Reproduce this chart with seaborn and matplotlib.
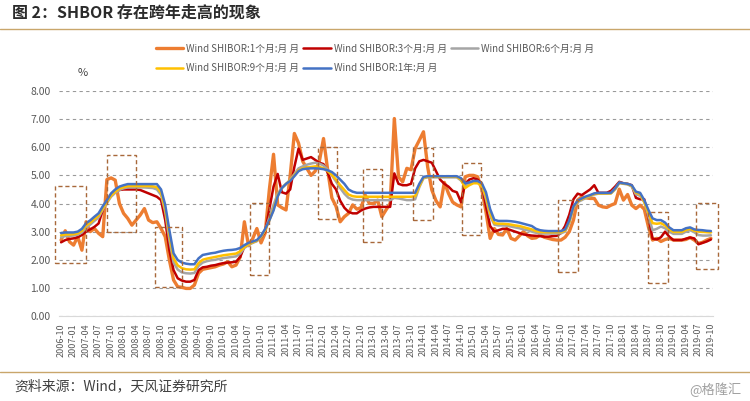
import numpy as np
import pandas as pd
import seaborn as sns
import matplotlib.pyplot as plt
from matplotlib.patches import Rectangle
from matplotlib.lines import Line2D

# monthly data, 2006-10 .. 2019-10
months = pd.date_range('2006-10-01', '2019-10-01', freq='MS')

shibor_1m = [2.70, 3.03, 2.64,
             2.52, 2.82, 2.34, 3.35, 3.00, 3.11, 2.94, 2.82, 4.85, 4.91, 4.83, 4.00,
             3.65, 3.47, 3.23, 3.41, 3.59, 3.82, 3.41, 3.32, 3.35, 3.11, 2.82, 1.99,
             1.28, 1.04, 1.02, 0.98, 0.98, 1.10, 1.52, 1.66, 1.69, 1.72, 1.75, 1.81,
             1.85, 1.93, 1.75, 1.81, 2.10, 3.35, 2.50, 2.75, 3.11, 2.60, 2.95, 4.50,
             5.75, 3.95, 3.85, 3.77, 5.00, 6.49, 6.15, 5.50, 5.25, 5.00, 5.15, 5.50,
             6.31, 5.19, 4.20, 3.90, 3.35, 3.53, 3.65, 3.95, 3.80, 3.85, 4.30, 4.00,
             4.00, 4.12, 3.53, 3.77, 4.00, 7.02, 4.95, 4.77, 5.25, 5.20, 5.96, 6.25,
             6.55, 5.30, 4.48, 4.10, 3.88, 4.75, 4.36, 4.05, 3.95, 3.88, 4.95, 5.00,
             5.00, 4.95, 4.50, 3.70, 2.76, 3.11, 2.90, 2.88, 3.11, 2.76, 2.70, 2.85,
             3.00, 2.85, 2.76, 2.78, 2.88, 2.80, 2.76, 2.72, 2.70, 2.70, 2.80, 3.00,
             3.41, 4.12, 4.24, 4.20, 4.18, 4.18, 3.94, 3.88, 3.86, 3.94, 4.00, 4.51,
             4.12, 4.32, 3.94, 3.82, 3.94, 3.80, 3.17, 2.70, 2.76, 2.65, 2.72, 2.76,
             2.70, 2.70, 2.70, 2.72, 2.79, 2.70, 2.58, 2.62, 2.70, 2.76]

shibor_3m = [2.62, 2.70, 2.74,
             2.76, 2.80, 2.88, 3.00, 3.08, 3.17, 3.29, 3.77, 4.10, 4.30, 4.42, 4.48,
             4.50, 4.50, 4.50, 4.50, 4.48, 4.42, 4.36, 4.30, 4.24, 4.12, 3.41, 2.34,
             1.63, 1.34, 1.26, 1.22, 1.22, 1.28, 1.63, 1.73, 1.75, 1.79, 1.81, 1.85,
             1.88, 1.90, 1.91, 1.93, 2.10, 2.46, 2.58, 2.62, 2.68, 2.80, 3.00, 3.80,
             4.60, 5.05, 4.40, 4.35, 4.50, 5.30, 5.95, 5.55, 5.60, 5.65, 5.55, 5.45,
             5.40, 5.10, 4.70, 4.50, 4.10, 3.85, 3.70, 3.65, 3.65, 3.75, 3.82, 3.86,
             3.88, 3.88, 3.88, 3.88, 3.88, 5.07, 4.70, 4.65, 4.65, 4.70, 5.25, 5.50,
             5.55, 5.50, 5.45, 5.15, 4.85, 4.70, 4.60, 4.45, 4.40, 4.05, 4.70, 4.85,
             4.90, 4.85, 4.70, 3.90, 3.20, 3.00, 3.05, 3.10, 3.10, 3.05, 3.00, 2.95,
             2.90, 2.88, 2.86, 2.85, 2.84, 2.82, 2.82, 2.84, 2.85, 2.95, 3.20, 3.60,
             4.15, 4.35, 4.30, 4.40, 4.50, 4.65, 4.38, 4.38, 4.38, 4.45, 4.60, 4.77,
             4.72, 4.70, 4.65, 4.20, 4.15, 4.15, 3.50, 2.75, 2.72, 2.80, 3.00, 2.82,
             2.70, 2.70, 2.70, 2.75, 2.79, 2.76, 2.55, 2.60, 2.65, 2.72]

shibor_6m = [2.80, 2.84, 2.85,
             2.86, 2.89, 2.97, 3.15, 3.25, 3.38, 3.50, 3.78, 4.02, 4.24, 4.38, 4.48,
             4.54, 4.57, 4.57, 4.57, 4.57, 4.57, 4.56, 4.55, 4.50, 4.30, 3.70, 2.70,
             1.90, 1.65, 1.55, 1.52, 1.51, 1.53, 1.78, 1.90, 1.95, 1.98, 2.00, 2.03,
             2.06, 2.08, 2.10, 2.12, 2.22, 2.42, 2.52, 2.60, 2.66, 2.80, 3.05, 3.50,
             3.95, 4.35, 4.55, 4.68, 4.85, 5.05, 5.25, 5.32, 5.38, 5.42, 5.45, 5.42,
             5.35, 5.20, 5.00, 4.78, 4.55, 4.35, 4.20, 4.14, 4.12, 4.12, 4.12, 4.12,
             4.12, 4.12, 4.12, 4.12, 4.12, 4.20, 4.18, 4.15, 4.12, 4.12, 4.15, 4.58,
             4.90, 4.93, 4.93, 4.93, 4.93, 4.93, 4.93, 4.93, 4.93, 4.82, 4.62, 4.72,
             4.80, 4.78, 4.65, 4.15, 3.55, 3.25, 3.22, 3.22, 3.21, 3.18, 3.15, 3.12,
             3.08, 3.05, 3.00, 2.96, 2.94, 2.93, 2.93, 2.93, 2.93, 2.94, 3.00, 3.30,
             3.85, 4.05, 4.12, 4.20, 4.26, 4.32, 4.35, 4.35, 4.35, 4.36, 4.50, 4.72,
             4.70, 4.68, 4.60, 4.32, 4.28, 4.05, 3.55, 3.05, 3.10, 3.18, 3.12, 3.00,
             2.92, 2.92, 2.92, 3.00, 3.05, 2.98, 2.88, 2.86, 2.86, 2.87]

shibor_9m = [2.87, 2.90, 2.90,
             2.91, 2.94, 3.03, 3.22, 3.32, 3.45, 3.57, 3.82, 4.05, 4.28, 4.42, 4.53,
             4.58, 4.62, 4.62, 4.62, 4.62, 4.62, 4.62, 4.61, 4.58, 4.38, 3.80, 2.90,
             2.05, 1.80, 1.70, 1.66, 1.65, 1.66, 1.88, 2.00, 2.04, 2.07, 2.10, 2.13,
             2.16, 2.18, 2.20, 2.22, 2.30, 2.45, 2.55, 2.62, 2.68, 2.82, 3.05, 3.40,
             3.80, 4.28, 4.55, 4.70, 4.82, 5.00, 5.18, 5.25, 5.28, 5.30, 5.32, 5.30,
             5.25, 5.15, 5.02, 4.85, 4.65, 4.48, 4.32, 4.26, 4.24, 4.24, 4.24, 4.24,
             4.24, 4.24, 4.24, 4.24, 4.24, 4.24, 4.24, 4.24, 4.24, 4.24, 4.26, 4.62,
             4.92, 4.95, 4.95, 4.95, 4.95, 4.95, 4.95, 4.95, 4.95, 4.85, 4.55, 4.65,
             4.72, 4.72, 4.62, 4.25, 3.65, 3.30, 3.28, 3.28, 3.27, 3.25, 3.22, 3.20,
             3.16, 3.12, 3.08, 3.02, 2.99, 2.98, 2.98, 2.98, 2.98, 2.98, 3.04, 3.35,
             3.88, 4.08, 4.16, 4.22, 4.28, 4.34, 4.36, 4.36, 4.36, 4.36, 4.52, 4.74,
             4.71, 4.69, 4.63, 4.38, 4.34, 4.05, 3.65, 3.30, 3.28, 3.30, 3.22, 3.08,
             2.99, 2.99, 2.99, 3.06, 3.10, 3.03, 3.00, 2.99, 2.98, 2.97]

shibor_1y = [2.95, 2.97, 2.97,
             2.97, 3.00, 3.10, 3.30, 3.40, 3.53, 3.65, 3.90, 4.12, 4.36, 4.50, 4.60,
             4.65, 4.69, 4.69, 4.69, 4.69, 4.69, 4.69, 4.69, 4.69, 4.50, 3.95, 3.05,
             2.23, 1.99, 1.90, 1.86, 1.84, 1.84, 2.05, 2.17, 2.20, 2.23, 2.25, 2.29,
             2.32, 2.34, 2.35, 2.37, 2.42, 2.52, 2.60, 2.65, 2.70, 2.85, 3.10, 3.40,
             3.75, 4.25, 4.55, 4.70, 4.80, 4.97, 5.15, 5.22, 5.24, 5.25, 5.25, 5.24,
             5.22, 5.18, 5.12, 5.00, 4.85, 4.70, 4.50, 4.42, 4.38, 4.38, 4.38, 4.38,
             4.38, 4.38, 4.38, 4.38, 4.38, 4.38, 4.38, 4.38, 4.38, 4.38, 4.38, 4.70,
             4.95, 4.97, 4.97, 4.97, 4.97, 4.97, 4.97, 4.97, 4.97, 4.90, 4.72, 4.75,
             4.80, 4.80, 4.72, 4.40, 3.80, 3.42, 3.38, 3.38, 3.38, 3.37, 3.35, 3.32,
             3.28, 3.24, 3.20, 3.10, 3.05, 3.03, 3.02, 3.02, 3.02, 3.02, 3.08, 3.40,
             3.90, 4.10, 4.18, 4.25, 4.30, 4.36, 4.38, 4.38, 4.38, 4.38, 4.54, 4.75,
             4.72, 4.70, 4.65, 4.42, 4.38, 4.12, 3.77, 3.47, 3.41, 3.41, 3.32, 3.15,
             3.05, 3.05, 3.05, 3.12, 3.15, 3.08, 3.06, 3.05, 3.03, 3.02]

labels = ['Wind SHIBOR:1个月:月 月', 'Wind SHIBOR:3个月:月 月', 'Wind SHIBOR:6个月:月 月',
          'Wind SHIBOR:9个月:月 月', 'Wind SHIBOR:1年:月 月']
colors = ['#ED7D31', '#C00000', '#A5A5A5', '#FFC000', '#4472C4']
widths = [2.4, 1.8, 1.8, 1.8, 1.8]

# dashed boxes around year ends: (x from, x to, y from, y to) in month index / %
boxes = [(-1.5, 6.0, 1.88, 4.62), (11.0, 18.0, 2.98, 5.72), (22.5, 29.0, 1.03, 3.16),
         (45.3, 49.9, 1.46, 4.01), (61.6, 66.2, 3.45, 6.00), (72.4, 77.0, 2.63, 5.22),
         (84.6, 89.2, 3.41, 5.97), (96.2, 100.7, 2.88, 5.43), (119.4, 124.0, 1.56, 4.12),
         (141.0, 145.6, 1.17, 3.69), (152.5, 157.8, 1.67, 4.01)]

sns.set_style('white')
plt.rcParams['font.family'] = ['Noto Sans CJK SC', 'DejaVu Sans']

df = pd.DataFrame({'idx': np.arange(len(months))})
series = [shibor_1m, shibor_3m, shibor_6m, shibor_9m, shibor_1y]

fig = plt.figure(figsize=(7.5, 4.01), dpi=100)
ax = fig.add_axes([59/750, 1-316/401, 654/750, 225/401])

for lab, vals, col, lw in zip(labels, series, colors, widths):
    df[lab] = vals
    sns.lineplot(data=df, x='idx', y=lab, color=col, linewidth=lw, ax=ax, label=lab)

ax.get_legend().remove()

for x0, x1, y0, y1 in boxes:
    ax.add_patch(Rectangle((x0, y0), x1 - x0, y1 - y0, fill=False, ec='#A8683A',
                           lw=1.0, ls=(0, (3, 2)), clip_on=False, zorder=5))

ax.set_xlim(-0.5, len(months) - 0.5)
ax.set_ylim(0, 8)
ax.set_yticks(np.arange(0, 9, 1))
ax.set_yticklabels([f'{v:.2f}' for v in np.arange(0, 9, 1)], fontsize=7.5, color='#595959')
tick_pos = np.arange(0, len(months), 3)
ax.set_xticks(tick_pos)
ax.set_xticklabels([months[i].strftime('%Y-%m') for i in tick_pos], rotation=90,
                   fontsize=6.5, color='#595959')
ax.tick_params(axis='y', length=0, pad=6)
ax.tick_params(axis='x', length=3, color='#BFBFBF', pad=2)
ax.set_xlabel('')
ax.set_ylabel('')
ax.yaxis.grid(True, color='#9A9A9A', linestyle=(0, (3, 3)), linewidth=0.8)
ax.xaxis.grid(False)
for s in ['left', 'right', 'top']:
    ax.spines[s].set_visible(False)
ax.spines['bottom'].set_color('#D9D9D9')

# legend, row-major order
handles = [Line2D([], [], color=c, lw=w) for c, w in zip(colors, widths)]
order = [0, 3, 1, 4, 2]
fig.legend([handles[i] for i in order], [labels[i] for i in order], ncol=3,
           loc='center', bbox_to_anchor=(0.5, 1 - 58.5/401), frameon=False,
           fontsize=7, handlelength=2.8, handletextpad=0.3, columnspacing=0.4,
           labelspacing=1.0, labelcolor='#595959')

fig.text(83/750, 1 - 73/401, '%', fontsize=8, color='#404040', ha='center', va='center')

fig.text(12/750, 1 - 13/401, '图 2：SHBOR 存在跨年走高的现象', fontsize=11.5,
         fontweight='bold', color='#2B2B2B', va='center')
fig.add_artist(Line2D([0, 1], [1 - 29/401] * 2, color='#C9A66B', lw=1.0))
fig.add_artist(Line2D([0, 1], [1 - 372/401] * 2, color='#C9A66B', lw=1.0))
fig.text(14/750, 1 - 386/401, '资料来源：Wind，天风证券研究所', fontsize=10,
         color='#404040', va='center')
fig.text(742/750, 1 - 390/401, '@格隆汇', fontsize=9.5, color='#A0A0A0',
         ha='right', va='center')

fig.savefig('out.png', dpi=100)
